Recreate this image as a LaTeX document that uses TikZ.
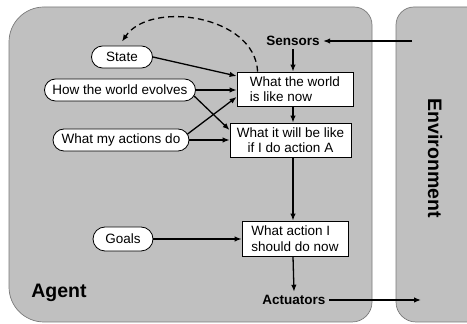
\documentclass[tikz,border=0pt]{standalone}
\usepackage{fontspec}
\setmainfont{Liberation Sans}
\usetikzlibrary{shapes.misc,arrows.meta,calc}
\definecolor{panel}{HTML}{C0C0C0}
\definecolor{panelline}{HTML}{7A7A7A}
\tikzset{
  pill/.style={rounded rectangle, draw=black, line width=0.8pt, fill=white, minimum height=22pt, inner sep=1pt, font=\fontsize{13.5}{15.5}\selectfont},
  infobox/.style={rectangle, draw=black, line width=0.8pt, fill=white, minimum height=34pt, inner sep=2pt, font=\fontsize{13.5}{15.5}\selectfont},
  lbl/.style={font=\fontsize{13.5}{15.5}\selectfont\bfseries},
  bigl/.style={font=\fontsize{19.5}{22}\selectfont\bfseries},
  conn/.style={line width=1.3pt, -{Latex[length=7pt,width=5.5pt]}},
  dashconn/.style={line width=1.3pt, dashed, dash pattern=on 6pt off 4pt, -{Latex[length=7pt,width=5.5pt]}},
  region/.style={fill=panel, draw=panelline, line width=0.7pt}
}
\begin{document}
\begin{tikzpicture}[x=1pt,y=1pt]
\useasboundingbox (0,0) rectangle (467,324);
\clip (0,0) rectangle (467,324);
\fill[white] (0,0) rectangle (467,324);
% Agent region
\draw[region] (9,282) arc[start angle=180,end angle=90,radius=35] -- (354,317)
  arc[start angle=90,end angle=0,radius=18] -- (372,22)
  arc[start angle=0,end angle=-90,radius=20] -- (44,2)
  arc[start angle=270,end angle=180,radius=35] -- cycle;
% Environment region
\draw[region] (480,317) -- (414,317) arc[start angle=90,end angle=180,radius=18] -- (396,22)
  arc[start angle=180,end angle=270,radius=20] -- (480,2);
% Nodes
\node[pill, minimum width=63pt] (state) at (122,267) {State};
\node[pill, minimum width=153pt] (evolves) at (120,234) {How the world evolves};
\node[pill, minimum width=138pt] (actions) at (121,184) {What my actions do};
\node[pill, minimum width=62pt, minimum height=24pt] (goals) at (123,85) {Goals};
\node[infobox, minimum width=116pt, align=left] (world) at (295,235) {What the world\\is like now};
\node[infobox, minimum width=121pt, align=center] (future) at (290.5,184) {What it will be like\\if I do action A};
\node[infobox, minimum width=106pt, minimum height=35pt, align=left] (decide) at (295,85.5) {What action I\\should do now};
\node[lbl] (sensors) at (293,283) {Sensors};
\node[lbl] (actuators) at (294,24) {Actuators};
\node[bigl] (agentlabel) at (59,31) {Agent};
\node[bigl, rotate=-90] (envlabel) at (435,166) {Environment};
\coordinate (envin) at (412,283);
\coordinate (envout) at (421,24);
% Connectors
\draw[conn] (envin) -- (sensors.east);
\draw[conn] (sensors.south) -- (sensors.south |- world.north);
\draw[conn] (sensors.south |- world.south) -- (sensors.south |- future.north);
\draw[conn] (sensors.south |- future.south) -- (sensors.south |- decide.north);
\draw[conn] (decide.south -| sensors.south) -- (actuators.north);
\draw[conn] (actuators.east) -- (envout);
\draw[conn] (state.east) -- ([yshift=13pt]world.west);
\draw[conn] (evolves.east) -- (evolves.east -| world.west);
\draw[conn] ([shift={(-1.8,-6)}]evolves.east) -- ([yshift=10pt]future.west);
\draw[conn] ([shift={(-1.8,6)}]actions.east) -- ([yshift=-8pt]world.west);
\draw[conn] (actions.east) -- (actions.east -| future.west);
\draw[conn] (goals.east) -- (goals.east -| decide.west);
\draw[dashconn] ([xshift=21pt]world.north west) .. controls (255,309) and (150,324) .. ([yshift=4pt]state.north);
\end{tikzpicture}
\end{document}
